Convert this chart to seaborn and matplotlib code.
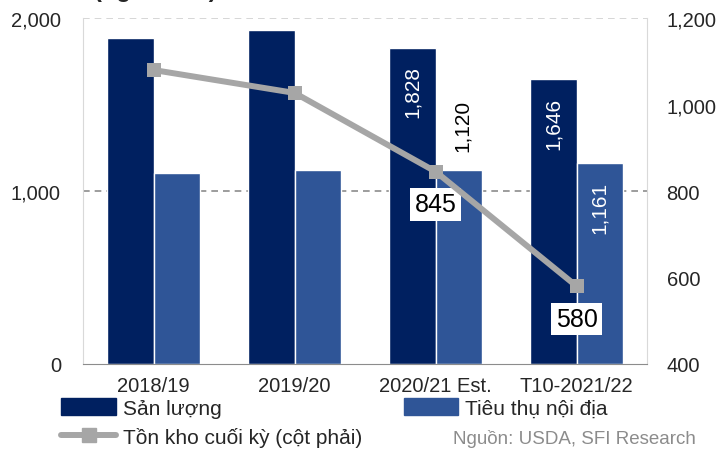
import numpy as np
import pandas as pd
import seaborn as sns
import matplotlib.pyplot as plt
from matplotlib.patches import Patch
from matplotlib.lines import Line2D

seasons = ["2018/19", "2019/20", "2020/21 Est.", "T10-2021/22"]
san_luong = [1884, 1931, 1828, 1646]
tieu_thu = [1104, 1121, 1120, 1161]
ton_kho = [1080, 1027, 845, 580]

dark = "#002060"
light = "#2F5597"
grey = "#A6A6A6"

sns.set_style("white")
plt.rcParams["font.family"] = ["Liberation Sans", "DejaVu Sans"]

df = pd.DataFrame({
    "season": seasons * 2,
    "value": san_luong + tieu_thu,
    "series": ["Sản lượng"] * 4 + ["Tiêu thụ nội địa"] * 4,
})

fig = plt.figure(figsize=(7.23, 4.56), dpi=100)
ax = fig.add_axes([0.115, 0.1996, 0.78, 0.7584])

sns.barplot(data=df, x="season", y="value", hue="series", order=seasons,
            palette=[dark, light], width=0.66, gap=0, saturation=1,
            ax=ax, legend=False)
ax.set_xlim(-0.5, 3.5)
ax.set_ylim(0, 2000)
ax.set_yticks([0, 1000, 2000])
ax.set_yticklabels(["0", "1,000", "2,000"], fontsize=14.5)
ax.set_xlabel("")
ax.set_ylabel("")
ax.tick_params(axis="x", labelsize=14.5, length=0, pad=9)
ax.tick_params(axis="y", length=0, pad=16)
ax.axhline(1000, color="#8C8C8C", ls=(0, (4, 3)), lw=1.2, zorder=0)
ax.axhline(2000, color="#D0D0D0", ls=(0, (4, 3)), lw=1.2, zorder=0)
for s in ["left", "right"]:
    ax.spines[s].set_color("#D9D9D9")
ax.spines["top"].set_visible(False)
ax.spines["bottom"].set_color("#8C8C8C")

# bar labels
ax.text(2 - 0.165, 1828 - 100, "1,828", rotation=90, color="white",
        ha="center", va="top", fontsize=15)
ax.text(2 + 0.19, 1120 + 110, "1,120", rotation=90, color="black",
        ha="center", va="bottom", fontsize=15)
ax.text(3 - 0.165, 1646 - 100, "1,646", rotation=90, color="white",
        ha="center", va="top", fontsize=15)
ax.text(3 + 0.165, 1161 - 100, "1,161", rotation=90, color="white",
        ha="center", va="top", fontsize=15)

ax2 = ax.twinx()
sns.lineplot(x=np.arange(4), y=ton_kho, ax=ax2, color=grey, lw=4.3,
             marker="s", markersize=10.5, markeredgewidth=0, zorder=5)
ax2.set_ylim(400, 1200)
ax2.set_yticks([400, 600, 800, 1000, 1200])
ax2.set_yticklabels(["400", "600", "800", "1,000", "1,200"], fontsize=14.5)
ax2.tick_params(axis="y", length=0, pad=14)
for s in ax2.spines.values():
    s.set_visible(False)

for i in [2, 3]:
    ax2.text(i, ton_kho[i] - 76, f"{ton_kho[i]}", fontsize=18, ha="center",
             va="center", color="black",
             bbox=dict(facecolor="white", edgecolor="none", pad=3))

# cut-off title at very top
fig.text(0.215, 1.0 + 0.006, "(nghìn tấn)", fontsize=17, fontweight="bold",
         ha="center", va="baseline")

handles = [Patch(color=dark, label="Sản lượng"),
           Line2D([0], [0], color=grey, lw=4.3, marker="s", markersize=10,
                  label="Tồn kho cuối kỳ (cột phải)"),
           Patch(color=light, label="Tiêu thụ nội địa")]
fig.legend(handles=handles, ncol=2, loc="upper left",
           bbox_to_anchor=(0.085, 0.125), frameon=False, fontsize=15,
           handlelength=2.6, handleheight=0.9, handletextpad=0.35,
           columnspacing=2.0, labelspacing=0.45, borderaxespad=0,
           borderpad=0)

fig.text(0.962, 0.037, "Nguồn: USDA, SFI Research", fontsize=13.5,
         color="#8C8C8C", ha="right", va="center")

fig.savefig("out.png", dpi=100)
